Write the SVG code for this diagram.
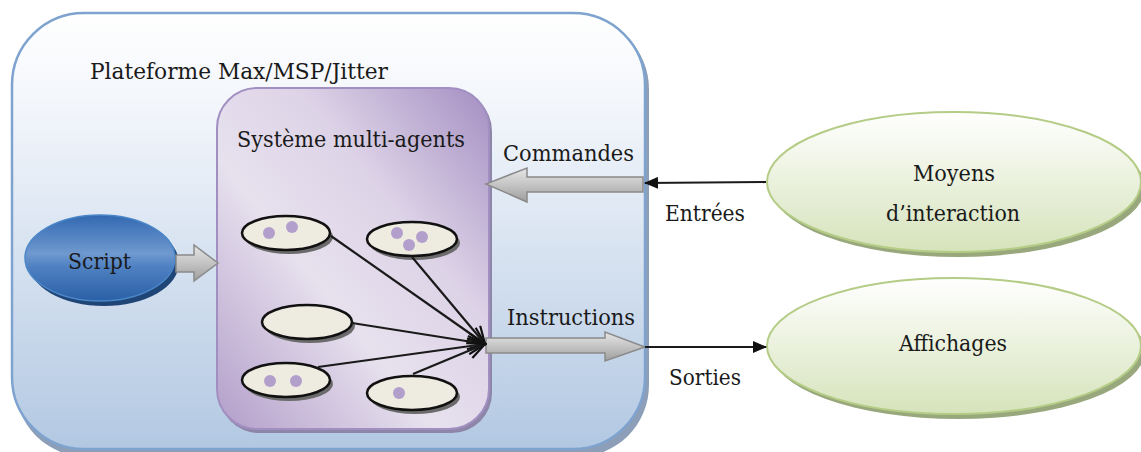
<svg xmlns="http://www.w3.org/2000/svg" width="1141" height="452" viewBox="0 0 1141 452">
<defs>
<style>
text{font-family:"DejaVu Serif","Liberation Serif",serif;fill:#1a1a1a;font-size:22px}
.agent{fill:#eeebe0;stroke:#111;stroke-width:2.5}
.ash{fill:#6b6b6b}
.dot{fill:#b39fcc}
.link{stroke:#1a1a1a;stroke-width:2.2;fill:none}
.blk{fill:url(#greyG);stroke:#8a8a8a;stroke-width:1.5}
</style>
<linearGradient id="outerG" x1="0" y1="0" x2="0" y2="1">
<stop offset="0" stop-color="#ffffff"/><stop offset="0.25" stop-color="#f0f4fa"/><stop offset="1" stop-color="#b2c8e2"/>
</linearGradient>
<linearGradient id="purpG" x1="1" y1="0" x2="0" y2="1">
<stop offset="0" stop-color="#a48ec2"/><stop offset="0.35" stop-color="#ddd3e7"/><stop offset="0.6" stop-color="#e7e1ee"/><stop offset="1" stop-color="#b29dc9"/>
</linearGradient>
<linearGradient id="scriptG" x1="0" y1="0" x2="0" y2="1">
<stop offset="0" stop-color="#3369b2"/><stop offset="0.45" stop-color="#6f99cf"/><stop offset="0.6" stop-color="#4f81c2"/><stop offset="1" stop-color="#2a60a6"/>
</linearGradient>
<linearGradient id="greenG" x1="0" y1="0" x2="0" y2="1">
<stop offset="0" stop-color="#ffffff"/><stop offset="1" stop-color="#d6e3bb"/>
</linearGradient>
<linearGradient id="greyG" x1="0" y1="0" x2="0" y2="1">
<stop offset="0" stop-color="#e6e6e6"/><stop offset="0.5" stop-color="#c4c4c4"/><stop offset="1" stop-color="#9e9e9e"/>
</linearGradient>
<marker id="solid" markerWidth="14" markerHeight="12" refX="13" refY="6" orient="auto" markerUnits="userSpaceOnUse">
<path d="M0,0 L14,6 L0,12 Z" fill="#111"/>
</marker>
<marker id="open" markerWidth="20" markerHeight="18" refX="18" refY="9" orient="auto" markerUnits="userSpaceOnUse">
<path d="M1,1 L18,9 L1,17" fill="none" stroke="#111" stroke-width="2.2"/>
</marker>
</defs>

<g id="platform">
<rect x="15" y="17" width="634" height="440" rx="72" fill="#8d9fb8"/>
<rect x="12" y="13" width="633" height="436" rx="72" fill="url(#outerG)" stroke="#7fa3cf" stroke-width="2.5"/>
<text x="90" y="79" textLength="298" lengthAdjust="spacingAndGlyphs">Plateforme Max/MSP/Jitter</text>
</g>

<g id="mas">
<rect x="219" y="91" width="273" height="342" rx="40" fill="#8e86a8"/>
<rect x="217" y="88" width="272" height="341" rx="40" fill="url(#purpG)" stroke="#a28fc2" stroke-width="2"/>
<text x="237" y="147" textLength="228" lengthAdjust="spacingAndGlyphs">Système multi-agents</text>
</g>

<g id="agent1">
<ellipse cx="289" cy="237" rx="44" ry="17" class="ash"/>
<ellipse cx="286" cy="233" rx="44" ry="17" class="agent"/>
<circle cx="269" cy="233" r="6" class="dot"/><circle cx="292" cy="227" r="6" class="dot"/>
</g>
<g id="agent2">
<ellipse cx="415" cy="243" rx="45" ry="17" class="ash"/>
<ellipse cx="412" cy="239" rx="45" ry="17" class="agent"/>
<circle cx="397" cy="233" r="6" class="dot"/><circle cx="422" cy="237" r="6" class="dot"/><circle cx="409" cy="245" r="6" class="dot"/>
</g>
<g id="agent3">
<ellipse cx="310" cy="326" rx="45" ry="17" class="ash"/>
<ellipse cx="307" cy="322" rx="45" ry="17" class="agent"/>
</g>
<g id="agent4">
<ellipse cx="289" cy="384" rx="44" ry="17" class="ash"/>
<ellipse cx="286" cy="380" rx="44" ry="17" class="agent"/>
<circle cx="270" cy="381" r="6" class="dot"/><circle cx="296" cy="381" r="6" class="dot"/>
</g>
<g id="agent5">
<ellipse cx="415" cy="397" rx="45" ry="17" class="ash"/>
<ellipse cx="412" cy="393" rx="45" ry="17" class="agent"/>
<circle cx="399" cy="393" r="6" class="dot"/>
</g>

<g id="script">
<ellipse cx="104" cy="263" rx="75" ry="43" fill="#1f4576"/>
<ellipse cx="100" cy="258" rx="75" ry="43" fill="url(#scriptG)" stroke="#4a86c8" stroke-width="1.5"/>
<text x="68" y="269" textLength="63" lengthAdjust="spacingAndGlyphs">Script</text>
</g>

<g id="moyens">
<ellipse cx="958" cy="187" rx="187" ry="70" fill="#98a87c"/>
<ellipse cx="954" cy="182" rx="187" ry="70" fill="url(#greenG)" stroke="#b4cc86" stroke-width="2"/>
<text x="913" y="181" textLength="82" lengthAdjust="spacingAndGlyphs">Moyens</text>
<text x="886" y="221" textLength="134" lengthAdjust="spacingAndGlyphs">d’interaction</text>
</g>

<g id="affichages">
<ellipse cx="958" cy="351" rx="187" ry="68" fill="#98a87c"/>
<ellipse cx="954" cy="346" rx="187" ry="68" fill="url(#greenG)" stroke="#b4cc86" stroke-width="2"/>
<text x="899" y="351" textLength="108" lengthAdjust="spacingAndGlyphs">Affichages</text>
</g>

<g id="connectors">
<path class="blk" d="M176,255 L194,255 L194,245 L218,263 L194,281 L194,272 L176,272 Z"/>
<path class="blk" d="M643,177 L527,177 L527,168 L486,184 L527,202 L527,192 L643,192 Z"/>
<path class="blk" d="M486,338 L605,338 L605,332 L645,347 L605,361 L605,353 L486,353 Z"/>
<line class="link" x1="766" y1="182" x2="645" y2="183" marker-end="url(#solid)"/>
<line class="link" x1="645" y1="347" x2="766" y2="347" marker-end="url(#solid)"/>
<line class="link" x1="331" y1="236" x2="485" y2="344" marker-end="url(#open)"/>
<line class="link" x1="412" y1="257" x2="485" y2="344" marker-end="url(#open)"/>
<line class="link" x1="352" y1="323" x2="485" y2="344" marker-end="url(#open)"/>
<line class="link" x1="318" y1="367" x2="485" y2="344" marker-end="url(#open)"/>
<line class="link" x1="413" y1="374" x2="485" y2="344" marker-end="url(#open)"/>
<text x="503" y="161" textLength="131" lengthAdjust="spacingAndGlyphs">Commandes</text>
<text x="665" y="221" textLength="80" lengthAdjust="spacingAndGlyphs">Entrées</text>
<text x="507" y="325" textLength="128" lengthAdjust="spacingAndGlyphs">Instructions</text>
<text x="669" y="385" textLength="72" lengthAdjust="spacingAndGlyphs">Sorties</text>
</g>
</svg>
